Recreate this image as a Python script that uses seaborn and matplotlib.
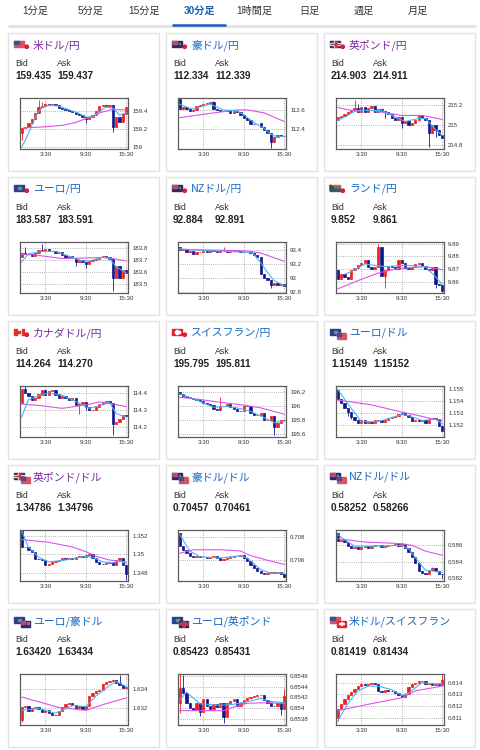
import numpy as np
import matplotlib
matplotlib.use('Agg')
import matplotlib.pyplot as plt
from matplotlib.patches import Rectangle, Circle, Polygon
import seaborn as sns

# ---------------- data ----------------
tabs = ['1分足', '5分足', '15分足', '30分足', '1時間足', '日足', '週足', '月足']
active_tab = '30分足'

pair_names = ['米ドル/円', '豪ドル/円', '英ポンド/円',
              'ユーロ/円', 'NZドル/円', 'ランド/円',
              'カナダドル/円', 'スイスフラン/円', 'ユーロ/ドル',
              '英ポンド/ドル', '豪ドル/ドル', 'NZドル/ドル',
              'ユーロ/豪ドル', 'ユーロ/英ポンド', '米ドル/スイスフラン']
visited = [True, False, True, False, False, False, True, False, False,
           True, False, False, False, False, False]
flags = [('US', 'JP'), ('AU', 'JP'), ('GB', 'JP'), ('EU', 'JP'), ('NZ', 'JP'),
         ('ZA', 'JP'), ('CA', 'JP'), ('CH', 'JP'), ('EU', 'US'), ('GB', 'US'),
         ('AU', 'US'), ('NZ', 'US'), ('EU', 'AU'), ('EU', 'GB'), ('US', 'CH')]
bids = ['159.435', '112.334', '214.903', '183.587', '92.884', '9.852',
        '114.264', '195.795', '1.15149', '1.34786', '0.70457', '0.58252',
        '1.63420', '0.85423', '0.81419']
asks = ['159.437', '112.339', '214.911', '183.591', '92.891', '9.861',
        '114.270', '195.811', '1.15152', '1.34796', '0.70461', '0.58266',
        '1.63434', '0.85431', '0.81434']

time_ticks = [7, 19, 31]
time_labels = ['3:30', '9:30', '15:30']

y_ticks = [[159, 159.2, 159.4], [112.4, 112.6], [214.8, 215, 215.2],
           [183.5, 183.6, 183.7, 183.8], [92.8, 93, 93.2, 93.4], [9.86, 9.87, 9.88, 9.89],
           [114.2, 114.3, 114.4], [195.6, 195.8, 196, 196.2], [1.152, 1.153, 1.154, 1.155],
           [1.348, 1.35, 1.352], [0.706, 0.708], [0.582, 0.584, 0.586],
           [1.632, 1.634], [0.8538, 0.854, 0.8542, 0.8544, 0.8546], [0.811, 0.812, 0.813, 0.814]]
y_limits = [(158.978, 159.539), (112.197, 112.723), (214.765, 215.274),
            (183.423, 183.848), (92.782, 93.519), (9.8513, 9.8913),
            (114.145, 114.439), (195.555, 196.282), (1.15102, 1.15527),
            (1.34715, 1.35262), (0.70422, 0.7086), (0.58169, 0.58785),
            (1.63027, 1.6356), (0.85368, 0.85464), (0.81037, 0.81474)]

# first open of each series, 30-minute closes, notable wicks (low, high)
usdjpy_open = 159.15
usdjpy_close = [159.21, 159.22, 159.26, 159.31, 159.37, 159.44, 159.45, 159.47, 159.46, 159.47,
                159.46, 159.43, 159.42, 159.41, 159.40, 159.39, 159.36, 159.35, 159.33, 159.31,
                159.33, 159.35, 159.40, 159.45, 159.46, 159.45, 159.46, 159.22, 159.33, 159.28,
                159.36, 159.435]
usdjpy_wick = {0: (159.08, None), 5: (None, 159.52), 6: (None, 159.50), 19: (159.26, None), 27: (159.17, None)}
usdjpy_fast = [(0, 159.0), (1, 159.07), (2, 159.15), (3, 159.24), (4, 159.32), (5, 159.39), (6, 159.43),
               (8, 159.46), (11, 159.45), (14, 159.41), (17, 159.37), (19, 159.33), (21, 159.33),
               (23, 159.39), (25, 159.44), (27, 159.43), (29, 159.35), (31, 159.38)]
usdjpy_slow = [(0.5, 159.21), (6, 159.22), (12.5, 159.24), (16, 159.27), (19.5, 159.32),
               (23.5, 159.38), (26.5, 159.41), (31, 159.41)]

audjpy_open = 112.71
audjpy_close = [112.61, 112.63, 112.61, 112.59, 112.60, 112.64, 112.65, 112.66, 112.67, 112.68,
                112.61, 112.60, 112.59, 112.59, 112.60, 112.57, 112.59, 112.58, 112.55, 112.52,
                112.50, 112.46, 112.45, 112.46, 112.42, 112.39, 112.36, 112.27, 112.32, 112.34,
                112.33, 112.334]
audjpy_wick = {0: (None, 112.72), 10: (None, 112.69), 27: (112.21, None)}
audjpy_fast = [(0, 112.66), (2, 112.63), (4, 112.61), (6, 112.63), (9, 112.66), (11, 112.63), (13, 112.60),
               (17, 112.59), (19, 112.55), (22, 112.47), (25, 112.41), (27, 112.35), (29, 112.32), (31, 112.33)]
audjpy_slow = [(0, 112.52), (8, 112.56), (17, 112.60), (20, 112.60), (25, 112.57), (31, 112.48)]

gbpjpy_open = 215.05
gbpjpy_close = [215.08, 215.09, 215.11, 215.13, 215.15, 215.17, 215.13, 215.18, 215.13, 215.17,
                215.19, 215.13, 215.16, 215.14, 215.13, 215.11, 215.07, 215.05, 215.08, 215.02,
                215.04, 215.00, 215.02, 215.05, 215.10, 215.07, 215.05, 214.92, 215.00, 214.95,
                214.90, 214.87]
gbpjpy_wick = {5: (None, 215.25), 6: (None, 215.21), 14: (215.07, None), 19: (214.97, None),
               27: (214.78, None), 29: (214.88, None)}
gbpjpy_fast = [(0, 215.05), (3, 215.10), (5, 215.14), (8, 215.15), (13, 215.15), (16, 215.10), (20, 215.04),
               (24, 215.07), (26, 215.07), (29, 214.96), (31, 214.90)]
gbpjpy_slow = [(0, 215.18), (4, 215.15), (10, 215.15), (19, 215.10), (25, 215.10), (31, 215.06)]

eurjpy_open = 183.72
eurjpy_close = [183.76, 183.75, 183.745, 183.735, 183.76, 183.78, 183.77, 183.79, 183.77, 183.775,
                183.76, 183.765, 183.74, 183.715, 183.735, 183.715, 183.68, 183.695, 183.685, 183.665,
                183.69, 183.70, 183.71, 183.72, 183.735, 183.725, 183.705, 183.55, 183.65, 183.55,
                183.615, 183.587]
eurjpy_wick = {1: (None, 183.81), 6: (None, 183.83), 16: (183.65, None), 19: (183.63, None), 27: (183.44, None)}
eurjpy_fast = [(0, 183.68), (2, 183.75), (6, 183.77), (10, 183.77), (14, 183.73), (18, 183.69), (20, 183.69),
               (24, 183.72), (26, 183.71), (28, 183.64), (31, 183.59)]
eurjpy_slow = [(0, 183.745), (4, 183.74), (12, 183.71), (19, 183.715), (25, 183.72), (31, 183.69)]

nzdjpy_open = 93.44
nzdjpy_close = [93.40, 93.42, 93.38, 93.39, 93.35, 93.37, 93.38, 93.39, 93.38, 93.40,
                93.39, 93.38, 93.40, 93.41, 93.38, 93.39, 93.40, 93.39, 93.38, 93.37,
                93.38, 93.36, 93.33, 93.30, 93.05, 93.00, 92.97, 92.90, 92.93, 92.90,
                92.91, 92.884]
nzdjpy_wick = {13: (None, 93.45), 27: (92.86, None)}
nzdjpy_fast = [(0, 93.42), (10, 93.39), (21, 93.37), (22, 93.34), (24, 93.22), (26, 93.08), (28, 92.96), (31, 92.89)]
nzdjpy_slow = [(0, 93.41), (12, 93.40), (20, 93.39), (24, 93.36), (31, 93.24)]

zarjpy_open = 9.869
zarjpy_close = [9.8625, 9.8665, 9.864, 9.862, 9.869, 9.871, 9.873, 9.875, 9.877, 9.872,
                9.870, 9.872, 9.887, 9.8645, 9.869, 9.8725, 9.872, 9.8705, 9.877, 9.8745,
                9.871, 9.8705, 9.872, 9.874, 9.875, 9.8725, 9.8705, 9.869, 9.8715, 9.858,
                9.8575, 9.853]
zarjpy_wick = {12: (None, 9.8895), 13: (None, 9.884), 14: (9.8555, None), 29: (9.855, None), 31: (9.852, None)}
zarjpy_fast = [(2, 9.866), (4, 9.868), (8, 9.874), (11, 9.873), (14, 9.872), (20, 9.873), (26, 9.872),
               (29, 9.864), (31, 9.858)]
zarjpy_slow = [(0, 9.8545), (6, 9.861), (12, 9.867), (18, 9.8705), (26, 9.872), (31, 9.8695)]

cadjpy_open = 114.34
cadjpy_close = [114.42, 114.40, 114.38, 114.36, 114.37, 114.39, 114.415, 114.39, 114.41, 114.415,
                114.39, 114.37, 114.38, 114.37, 114.36, 114.37, 114.33, 114.335, 114.345, 114.32,
                114.30, 114.30, 114.32, 114.335, 114.345, 114.35, 114.34, 114.22, 114.23, 114.25,
                114.27, 114.264]
cadjpy_wick = {1: (None, 114.44), 17: (114.28, None), 19: (114.30, None), 27: (114.155, None)}
cadjpy_fast = [(0, 114.26), (2, 114.36), (4, 114.375), (8, 114.40), (12, 114.385), (16, 114.35), (20, 114.31),
               (24, 114.33), (26, 114.345), (28, 114.28), (31, 114.26)]
cadjpy_slow = [(0, 114.335), (6, 114.325), (12, 114.31), (19, 114.33), (23, 114.347), (27, 114.335), (31, 114.32)]

chfjpy_open = 196.19
chfjpy_close = [196.17, 196.145, 196.13, 196.11, 196.10, 196.077, 196.064, 196.045, 196.03, 196.01,
                195.96, 195.94, 196.00, 196.00, 196.02, 195.98, 195.95, 195.92, 195.93, 196.00,
                195.99, 195.90, 195.875, 195.87, 195.89, 195.80, 195.80, 195.85, 195.70, 195.76,
                195.80, 195.795]
chfjpy_wick = {12: (195.93, 196.12), 28: (195.58, None)}
chfjpy_fast = [(0, 196.17), (5, 196.08), (10, 195.98), (14, 195.99), (18, 195.96), (21, 195.92),
               (25, 195.83), (28, 195.76), (31, 195.78)]
chfjpy_slow = [(0, 196.12), (6, 196.09), (12, 196.05), (19, 196.01), (24, 195.97), (31, 195.88)]

eurusd_open = 1.1549
eurusd_close = [1.15415, 1.15385, 1.15345, 1.15310, 1.15270, 1.15245, 1.15215, 1.15240, 1.15215, 1.15225,
                1.15220, 1.15245, 1.15240, 1.15230, 1.15245, 1.15260, 1.15270, 1.15280, 1.15292, 1.15305,
                1.15285, 1.15270, 1.15235, 1.15240, 1.15232, 1.15245, 1.15222, 1.15255, 1.15262, 1.15250,
                1.15190, 1.15149]
eurusd_wick = {3: (1.1528, None), 4: (1.1525, None)}
eurusd_fast = [(0, 1.1550), (3, 1.1538), (7, 1.1523), (12, 1.1523), (19, 1.1529), (21, 1.1528),
               (25, 1.1524), (29, 1.1525), (31, 1.1521)]
eurusd_slow = [(0, 1.1541), (10, 1.1537), (19, 1.1531), (24, 1.1528), (27, 1.1526), (31, 1.1524)]

gbpusd_open = 1.3525
gbpusd_close = [1.35075, 1.35085, 1.35050, 1.35025, 1.34955, 1.34950, 1.34937, 1.34885, 1.34895, 1.34915,
                1.34930, 1.34945, 1.34960, 1.34950, 1.34962, 1.34955, 1.34972, 1.34982, 1.34975, 1.34995,
                1.35000, 1.34960, 1.34920, 1.34900, 1.34895, 1.34905, 1.34915, 1.34890, 1.34945, 1.34965,
                1.34890, 1.34786]
gbpusd_wick = {31: (1.3473, None)}
gbpusd_fast = [(0, 1.3525), (2, 1.3508), (5, 1.3497), (8, 1.3492), (13, 1.3494), (19, 1.3498), (21, 1.3497),
               (24, 1.3492), (27, 1.3491), (29, 1.3493), (31, 1.3490)]
gbpusd_slow = [(0, 1.3516), (8, 1.3513), (15, 1.3508), (19, 1.3503), (22, 1.3498), (26, 1.3494), (31, 1.3492)]

audusd_open = 0.7083
audusd_close = [0.70725, 0.70685, 0.70665, 0.70640, 0.70625, 0.70635, 0.70625, 0.70630, 0.70622, 0.70630,
                0.70636, 0.70618, 0.70605, 0.70612, 0.70622, 0.70630, 0.70636, 0.70641, 0.70647, 0.70620,
                0.70590, 0.70560, 0.70535, 0.70510, 0.70495, 0.70480, 0.70490, 0.70500, 0.70495, 0.70502,
                0.70485, 0.70457]
audusd_wick = {}
audusd_fast = [(0, 0.7082), (3, 0.7068), (6, 0.7063), (12, 0.7062), (18, 0.7064), (20, 0.7062),
               (24, 0.7052), (27, 0.7049), (31, 0.7049)]
audusd_slow = [(0, 0.7066), (4, 0.7069), (12, 0.7069), (18, 0.7068), (21, 0.7064), (26, 0.7060), (31, 0.70565)]

nzdusd_open = 0.58745
nzdusd_close = [0.58655, 0.58669, 0.58635, 0.58590, 0.58565, 0.58575, 0.58550, 0.58575, 0.58590, 0.58573,
                0.58590, 0.58600, 0.58605, 0.58575, 0.58590, 0.58600, 0.58608, 0.58612, 0.58590, 0.58610,
                0.58565, 0.58520, 0.58460, 0.58385, 0.58290, 0.58270, 0.58255, 0.58300, 0.58320, 0.58285,
                0.58255, 0.58252]
nzdusd_wick = {28: (None, 0.5834), 31: (0.58205, None)}
nzdusd_fast = [(0, 0.5873), (3, 0.5864), (5, 0.5859), (12, 0.5859), (19, 0.5860), (21, 0.5856),
               (24, 0.5840), (26, 0.5830), (28, 0.5829), (31, 0.5827)]
nzdusd_slow = [(0, 0.5868), (8, 0.5864), (19, 0.5862), (22, 0.5860), (26, 0.5853), (31, 0.5848)]

euraud_open = 1.6308
euraud_close = [1.63215, 1.63225, 1.63170, 1.63205, 1.63215, 1.63190, 1.63165, 1.63180, 1.63155, 1.63135,
                1.63128, 1.63170, 1.63215, 1.63243, 1.63255, 1.63235, 1.63200, 1.63225, 1.63195, 1.63225,
                1.63325, 1.63360, 1.63380, 1.63395, 1.63455, 1.63475, 1.63492, 1.63500, 1.63470, 1.63445,
                1.63410, 1.63420]
euraud_wick = {0: (1.63055, None), 29: (None, 1.63545)}
euraud_fast = [(0, 1.6318), (5, 1.6320), (10, 1.6315), (12, 1.6318), (15, 1.6323), (19, 1.6322),
               (22, 1.6333), (26, 1.6344), (28, 1.6348), (31, 1.6343)]
euraud_slow = [(0, 1.6332), (5, 1.6327), (11, 1.6321), (19, 1.6318), (25, 1.6325), (31, 1.6331)]

eurgbp_open = 0.8541
eurgbp_close = [0.85437, 0.85428, 0.85410, 0.85400, 0.85397, 0.85410, 0.85392, 0.85416, 0.85404, 0.85398,
                0.85407, 0.85401, 0.85410, 0.85383, 0.85409, 0.85413, 0.85416, 0.85403, 0.85410, 0.85415,
                0.85418, 0.85420, 0.85422, 0.85424, 0.85424, 0.85415, 0.85410, 0.85404, 0.85403, 0.85410,
                0.85398, 0.85423]
eurgbp_wick = {0: (0.8539, 0.85464), 1: (None, 0.85462), 6: (0.85385, None), 13: (0.85372, None),
               30: (0.85387, None), 31: (None, 0.85435)}
eurgbp_fast = [(0, 0.85415), (2, 0.8543), (6, 0.85408), (12, 0.85405), (16, 0.85407), (20, 0.85412),
               (24, 0.85418), (27, 0.85412), (31, 0.85410)]
eurgbp_slow = [(0, 0.85395), (13, 0.85395), (16, 0.85402), (20, 0.85409), (27, 0.85410), (31, 0.85408)]

usdchf_open = 0.81095
usdchf_close = [0.81175, 0.81220, 0.81260, 0.81290, 0.81320, 0.81345, 0.81370, 0.81385, 0.81378, 0.81392,
                0.81395, 0.81385, 0.81325, 0.81320, 0.81335, 0.81330, 0.81325, 0.81315, 0.81290, 0.81275,
                0.81305, 0.81365, 0.81385, 0.81400, 0.81415, 0.81410, 0.81385, 0.81395, 0.81380, 0.81392,
                0.81378, 0.81419]
usdchf_wick = {0: (0.81075, None), 31: (None, 0.81465)}
usdchf_fast = [(0, 0.8107), (3, 0.8122), (6, 0.8133), (9, 0.8137), (12, 0.8137), (16, 0.8134), (19, 0.8129),
               (21, 0.8131), (25, 0.8140), (28, 0.8139), (31, 0.8139)]
usdchf_slow = [(0, 0.8116), (10, 0.8122), (19, 0.8127), (23, 0.8133), (27, 0.8135), (31, 0.8137)]

series = [
    (usdjpy_open, usdjpy_close, usdjpy_wick, usdjpy_fast, usdjpy_slow),
    (audjpy_open, audjpy_close, audjpy_wick, audjpy_fast, audjpy_slow),
    (gbpjpy_open, gbpjpy_close, gbpjpy_wick, gbpjpy_fast, gbpjpy_slow),
    (eurjpy_open, eurjpy_close, eurjpy_wick, eurjpy_fast, eurjpy_slow),
    (nzdjpy_open, nzdjpy_close, nzdjpy_wick, nzdjpy_fast, nzdjpy_slow),
    (zarjpy_open, zarjpy_close, zarjpy_wick, zarjpy_fast, zarjpy_slow),
    (cadjpy_open, cadjpy_close, cadjpy_wick, cadjpy_fast, cadjpy_slow),
    (chfjpy_open, chfjpy_close, chfjpy_wick, chfjpy_fast, chfjpy_slow),
    (eurusd_open, eurusd_close, eurusd_wick, eurusd_fast, eurusd_slow),
    (gbpusd_open, gbpusd_close, gbpusd_wick, gbpusd_fast, gbpusd_slow),
    (audusd_open, audusd_close, audusd_wick, audusd_fast, audusd_slow),
    (nzdusd_open, nzdusd_close, nzdusd_wick, nzdusd_fast, nzdusd_slow),
    (euraud_open, euraud_close, euraud_wick, euraud_fast, euraud_slow),
    (eurgbp_open, eurgbp_close, eurgbp_wick, eurgbp_fast, eurgbp_slow),
    (usdchf_open, usdchf_close, usdchf_wick, usdchf_fast, usdchf_slow),
]

UP = '#f01e1e'
DOWN = '#16168a'
FAST = '#45b6f2'
SLOW = '#dc52ee'
NAVY = '#1f2e6e'

sns.set_theme(style='white')
plt.rcParams['font.family'] = ['Liberation Sans', 'Noto Sans CJK JP', 'DejaVu Sans']
JP_FONT = ['Noto Sans CJK JP', 'DejaVu Sans']


def draw_flag(ax, code, x, y, w, h):
    if code == 'JP':
        ax.add_patch(Circle((x + w * 0.55, y + h * 0.55), 1.7, color='#d81e2f', zorder=5))
        return
    if code == 'US':
        ax.add_patch(Rectangle((x, y), w, h, color='#f3d3d6', zorder=4))
        for k in range(4):
            ax.add_patch(Rectangle((x, y + k * h / 3.5), w, h / 7, color='#d9535f', zorder=4))
        ax.add_patch(Rectangle((x, y), w * 0.45, h * 0.55, color='#3b4f9a', zorder=4))
    elif code in ('AU', 'NZ'):
        ax.add_patch(Rectangle((x, y), w, h, color=NAVY, zorder=4))
        ax.add_patch(Rectangle((x, y), w * 0.45, h * 0.5, color='#b84a6a', zorder=4))
        ax.add_patch(Rectangle((x + w * 0.7, y + h * 0.3), 1.2, 1.2, color='#e05060', zorder=4))
    elif code == 'GB':
        ax.add_patch(Rectangle((x, y), w, h, color=NAVY, zorder=4))
        ax.add_patch(Rectangle((x, y + h * 0.38), w, h * 0.24, color='#e6e6f0', zorder=4))
        ax.add_patch(Rectangle((x + w * 0.4, y), w * 0.2, h, color='#e6e6f0', zorder=4))
        ax.add_patch(Rectangle((x, y + h * 0.43), w, h * 0.14, color='#d0303a', zorder=4))
        ax.add_patch(Rectangle((x + w * 0.45, y), w * 0.1, h, color='#d0303a', zorder=4))
    elif code == 'EU':
        ax.add_patch(Rectangle((x, y), w, h, color='#24409a', zorder=4))
        ax.add_patch(Rectangle((x + w * 0.35, y + h * 0.3), w * 0.3, h * 0.4, color='#8a8a60', zorder=4))
    elif code == 'ZA':
        ax.add_patch(Rectangle((x, y), w, h / 3, color='#d8584a', zorder=4))
        ax.add_patch(Rectangle((x, y + h / 3), w, h / 3, color='#3d8a4a', zorder=4))
        ax.add_patch(Rectangle((x, y + 2 * h / 3), w, h / 3, color='#3a4e9a', zorder=4))
        ax.add_patch(Polygon([(x, y), (x + w * 0.4, y + h / 2), (x, y + h)], color='#2d5a2d', zorder=4))
    elif code == 'CA':
        ax.add_patch(Rectangle((x, y), w, h, color='white', zorder=4))
        ax.add_patch(Rectangle((x, y), w * 0.25, h, color='#e03030', zorder=4))
        ax.add_patch(Rectangle((x + w * 0.75, y), w * 0.25, h, color='#e03030', zorder=4))
        ax.add_patch(Rectangle((x + w * 0.4, y + h * 0.3), w * 0.2, h * 0.4, color='#e03030', zorder=4))
    elif code == 'CH':
        ax.add_patch(Rectangle((x, y), w, h, color='#e8202a', zorder=4))
        ax.add_patch(Rectangle((x + w * 0.4, y + h * 0.2), w * 0.2, h * 0.6, color='white', zorder=4))
        ax.add_patch(Rectangle((x + w * 0.25, y + h * 0.4), w * 0.5, h * 0.2, color='white', zorder=4))


def draw_candles(ax, first_open, closes, wicks):
    opens = [first_open] + list(closes[:-1])
    for i, (o, c) in enumerate(zip(opens, closes)):
        color = UP if c >= o else DOWN
        lo, hi = min(o, c), max(o, c)
        wl, wh = wicks.get(i, (None, None))
        wl = lo if wl is None else min(wl, lo)
        wh = hi if wh is None else max(wh, hi)
        if wh > wl:
            ax.vlines(i, wl, wh, color=color, linewidth=0.6, zorder=2)
        ax.bar(i, hi - lo, bottom=lo, width=0.7, color=color, edgecolor=color,
               linewidth=0.5, zorder=2)


fig = plt.figure(figsize=(4.8, 7.5), dpi=100)
fig.patch.set_facecolor('white')
bg = fig.add_axes([0, 0, 1, 1])
bg.set_xlim(0, 480)
bg.set_ylim(750, 0)
bg.axis('off')

# tab bar
tab_x = [35.5, 90, 144.5, 199.5, 254.5, 309, 363.5, 418]
for label, tx in zip(tabs, tab_x):
    active = label == active_tab
    bg.text(tx, 11, label, ha='center', va='center', fontsize=7.3,
            color='#1a5fb4' if active else '#333333',
            fontweight='bold' if active else 'normal')
bg.plot([8, 476], [25.6, 25.6], color='#e4e4e4', linewidth=2.2, solid_capstyle='butt')
bg.plot([172, 226], [25.2, 25.2], color='#1560bd', linewidth=1.8, solid_capstyle='butt')

for k in range(15):
    row, col = divmod(k, 3)
    cx = 8 + col * 158
    cy = 33 + row * 144
    bg.add_patch(Rectangle((cx, cy), 151, 138, facecolor='white', edgecolor='#e3e3e3', linewidth=1))

    main_flag, quote_flag = flags[k]
    draw_flag(bg, main_flag, cx + 6, cy + 8, 10, 6)
    if quote_flag == 'JP':
        draw_flag(bg, 'JP', cx + 16, cy + 11, 5, 5)
    else:
        draw_flag(bg, quote_flag, cx + 13, cy + 11.5, 9, 6)

    bg.text(cx + 25, cy + 12, pair_names[k], ha='left', va='center', fontsize=7.8,
            family=JP_FONT, color='#7a2a9c' if visited[k] else '#1668c4')
    bg.text(cx + 7, cy + 30.5, 'Bid', ha='left', va='center', fontsize=6.3, color='#333333')
    bg.text(cx + 49, cy + 30.5, 'Ask', ha='left', va='center', fontsize=6.3, color='#333333')
    bg.text(cx + 7, cy + 43, bids[k], ha='left', va='center', fontsize=7.2,
            fontweight='bold', color='#222222')
    bg.text(cx + 49, cy + 43, asks[k], ha='left', va='center', fontsize=7.2,
            fontweight='bold', color='#222222')

    # chart area
    left, top, width, height = cx + 12, cy + 65, 108, 51
    ax = fig.add_axes([left / 480, 1 - (top + height) / 750, width / 480, height / 750])
    ax.set_facecolor('white')
    first_open, closes, wicks, fast, slow = series[k]
    draw_candles(ax, first_open, closes, wicks)
    sns.lineplot(x=[p[0] for p in slow], y=[p[1] for p in slow], ax=ax, color=SLOW,
                 linewidth=0.8, zorder=3)
    sns.lineplot(x=[p[0] for p in fast], y=[p[1] for p in fast], ax=ax, color=FAST,
                 linewidth=0.8, zorder=3)

    ax.set_xlim(-0.5, len(closes) - 0.5)
    ax.set_ylim(*y_limits[k])
    ax.set_xticks(time_ticks)
    ax.set_xticklabels(time_labels)
    ax.set_yticks(y_ticks[k])
    ax.set_yticklabels([f'{v:g}' for v in y_ticks[k]])
    ax.yaxis.tick_right()
    ax.tick_params(axis='both', length=0, labelsize=4.4, colors='#333333')
    ax.tick_params(axis='y', pad=3)
    ax.tick_params(axis='x', pad=1.8)
    ax.set_xlabel('')
    ax.set_ylabel('')
    ax.grid(True, color='#9a9a9a', linestyle=(0, (1, 1.6)), linewidth=0.6)
    ax.set_axisbelow(True)
    for s in ax.spines.values():
        s.set_visible(True)
        s.set_color('#5c5c5c')
        s.set_linewidth(0.9)

fig.savefig('out.png', dpi=100, facecolor='white')
